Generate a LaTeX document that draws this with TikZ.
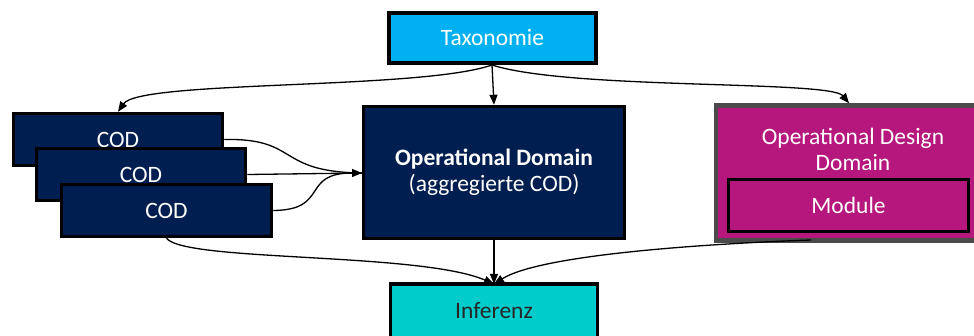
\documentclass[tikz,border=0pt]{standalone}
\usepackage{fontspec}
\setmainfont{Carlito}
\usetikzlibrary{arrows.meta}
\definecolor{taxblue}{HTML}{00B0F0}
\definecolor{navy}{HTML}{001E50}
\definecolor{magenta}{HTML}{B5177D}
\definecolor{teal}{HTML}{00CCCC}
\definecolor{frame}{HTML}{4A4A4A}
\tikzset{
  box/.style={draw=black, line width=3.5pt, rectangle, align=center,
    font=\fontsize{23.5}{26}\selectfont, inner sep=0pt},
  link/.style={line width=1.3pt, -{Triangle[length=10pt,width=8pt]}},
  plain/.style={line width=1.3pt}
}
\begin{document}
\begin{tikzpicture}[x=1pt,y=-1pt]
\useasboundingbox (0,0) rectangle (974,336);
\clip (0,0) rectangle (974,336);

% top-level classification
\node[box, fill=taxblue, text=white, minimum width=207pt, minimum height=50pt]
  (tax) at (492.5,38) {Taxonomie};

% operational domain
\node[box, fill=navy, text=white, minimum width=261pt, minimum height=132pt]
  (od) at (494,172.5) {\textbf{Operational Domain}\\(aggregierte COD)};

% stacked COD boxes
\node[box, fill=navy, text=white, minimum width=209pt, minimum height=52pt]
  (cod1) at (118,139.5) {COD};
\node[box, fill=navy, text=white, minimum width=209pt, minimum height=52pt]
  (cod2) at (141,174.5) {COD};
\node[box, fill=navy, text=white, minimum width=210pt, minimum height=52pt]
  (cod3) at (166.5,210.5) {COD};

% operational design domain with module
\node[box, draw=frame, line width=4.5pt, fill=magenta, minimum width=266pt, minimum height=135pt]
  (odd) at (849,173) {};
\node[text=white, font=\fontsize{23.5}{26}\selectfont, align=center]
  (oddlabel) at (853,149) {Operational Design\\Domain};
\node[box, fill=magenta, text=white, minimum width=240pt, minimum height=52pt]
  (mod) at (848.5,205.5) {Module};

% inference
\node[box, fill=teal, text=black!85, minimum width=207pt, minimum height=54pt]
  (inf) at (494,311) {Inferenz};

\coordinate (taxout) at (492,65);
\coordinate (oddout) at (811,240);
\coordinate (odin) at (362,173);
\coordinate (infin) at (494,284);

% taxonomy to the three branches
\draw[link] (taxout) .. controls (420,90) and (140,80) .. (cod1.north);
\draw[link] (taxout) -- (od.north);
\draw[link] (taxout) .. controls (570,90) and (830,80) .. (odd.north);

% COD boxes feed the operational domain
\draw[plain] (cod1.east) .. controls (300,138) and (275,172) .. (odin);
\draw[plain] (cod2.east) -- (odin);
\draw[link] (cod3.east) .. controls (330,210) and (300,173) .. (odin);

% everything feeds inference
\draw[link] (cod3.south) .. controls (185,262) and (420,252) .. (infin);
\draw[link] (od.south) -- (infin);
\draw[link] (oddout) .. controls (700,244) and (540,255) .. (infin);
\end{tikzpicture}
\end{document}
